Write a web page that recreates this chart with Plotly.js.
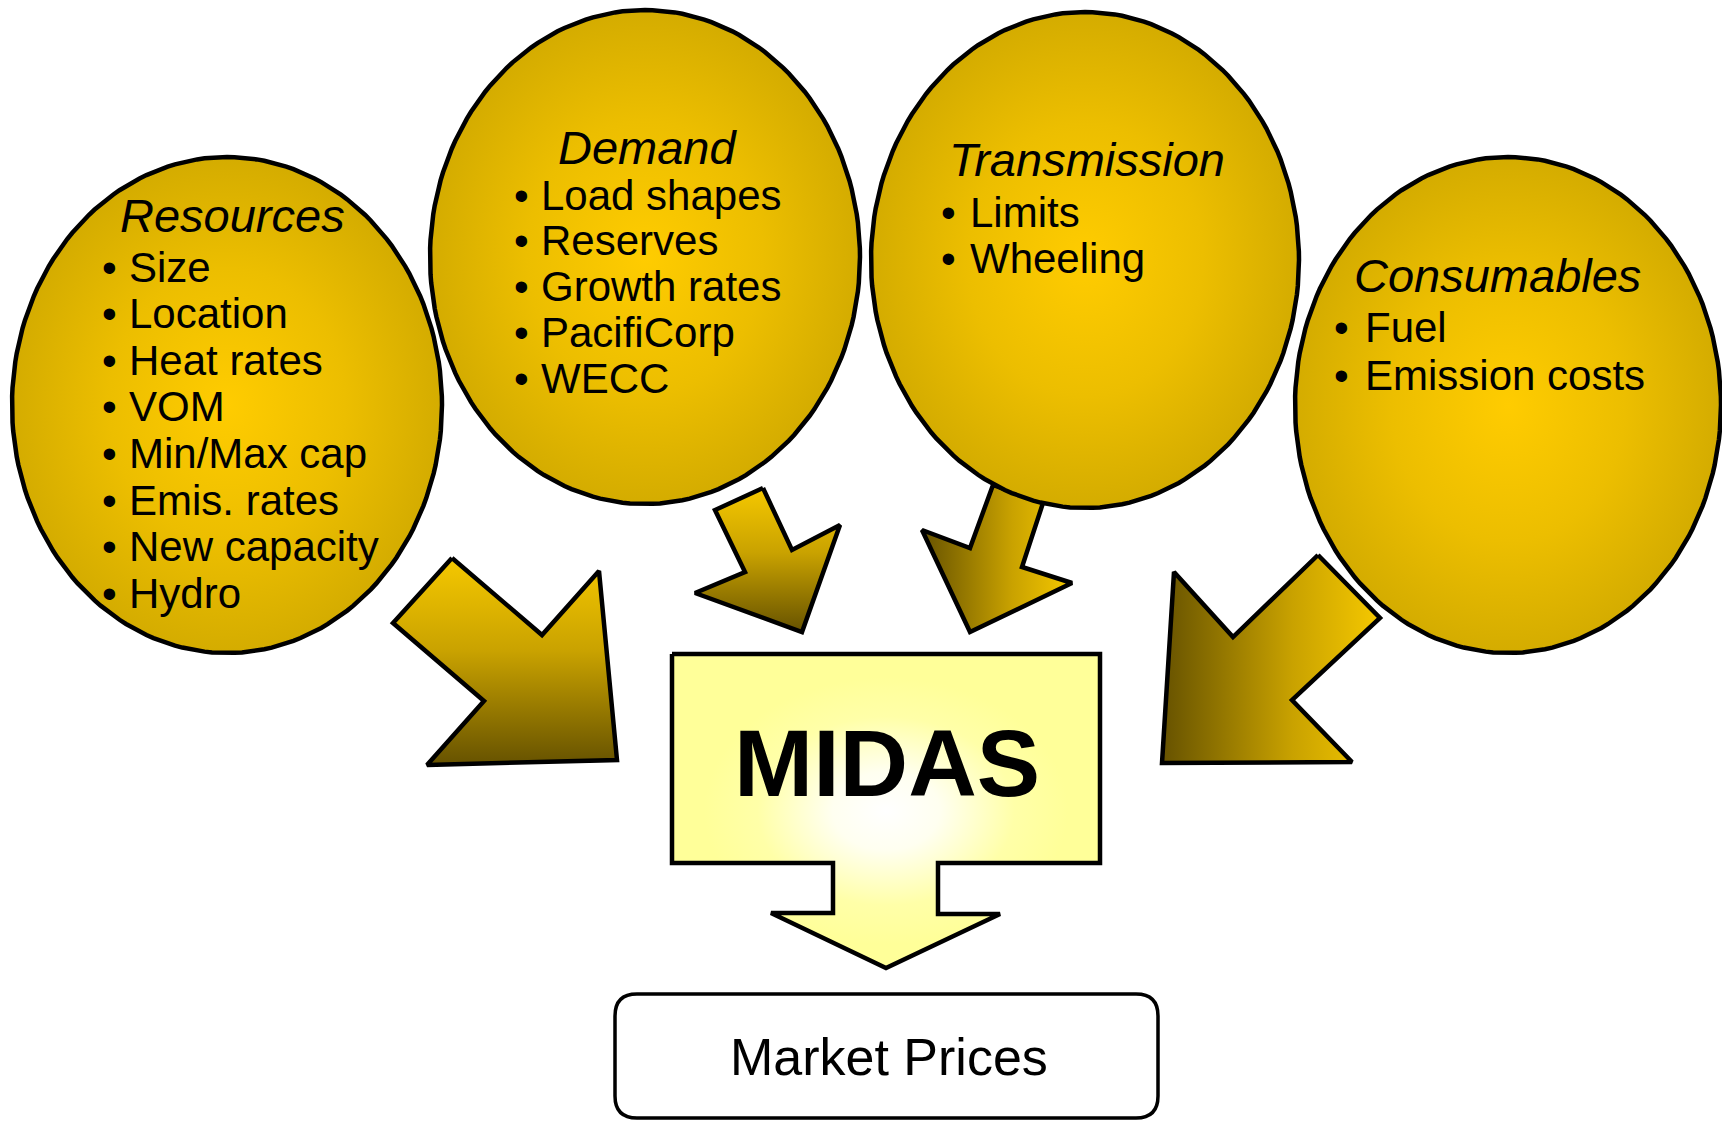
<!DOCTYPE html>
<html><head><meta charset="utf-8">
<script src="https://cdn.plot.ly/plotly-3.0.1.min.js"></script>
<style>html,body{margin:0;padding:0;background:#fff;overflow:hidden}#chart{width:1722px;height:1121px}</style>
</head><body><div id="chart"></div>
<script>
// ---- content ----
const categories = ['Resources', 'Demand', 'Transmission', 'Consumables'];
const resourcesItems = ['Size', 'Location', 'Heat rates', 'VOM', 'Min/Max cap', 'Emis. rates', 'New capacity', 'Hydro'];
const demandItems = ['Load shapes', 'Reserves', 'Growth rates', 'PacifiCorp', 'WECC'];
const transmissionItems = ['Limits', 'Wheeling'];
const consumablesItems = ['Fuel', 'Emission costs'];
const modelLabel = 'MIDAS';
const outputLabel = 'Market Prices';
const itemLists = [resourcesItems, demandItems, transmissionItems, consumablesItems];

// ---- geometry (pixel space) ----
const bubbles = [
  {cx: 227, cy: 405, rx: 215, ry: 248, titleX: 232, titleY: 215, bulletX: 109, textX: 127, firstY: 267, step: 46.6},
  {cx: 645, cy: 257, rx: 215, ry: 247, titleX: 648, titleY: 147, bulletX: 521, textX: 539, firstY: 195, step: 45.9},
  {cx: 1085, cy: 260, rx: 214, ry: 248, titleX: 1087, titleY: 159, bulletX: 948, textX: 968, firstY: 212, step: 46.4},
  {cx: 1508, cy: 405, rx: 213, ry: 248, titleX: 1497, titleY: 275, bulletX: 1341, textX: 1363, firstY: 327, step: 48.3}
];
const arrows = [
  {pts: [[452,558],[542,635],[599,571],[617,760],[427,765],[484,701],[393,623]], dir: 'vertical', start: 558, stop: 765, rev: false},
  {pts: [[763,488],[792,550],[840,525],[802,632],[695,593],[745,572],[715,510]], dir: 'vertical', start: 488, stop: 632, rev: false},
  {pts: [[993,485],[1043,503],[1022,567],[1072,583],[970,632],[922,530],[970,548]], dir: 'horizontal', start: 922, stop: 1072, rev: true},
  {pts: [[1318,555],[1380,618],[1292,700],[1352,762],[1162,763],[1174,572],[1233,637]], dir: 'horizontal', start: 1162, stop: 1380, rev: true}
];
const midasShape = [[672,654],[1100,654],[1100,863],[938,863],[938,914],[1000,914],[886,968],[771,913],[833,913],[833,863],[672,863]];
const outBox = {x0: 615, x1: 1158, y0: 994, y1: 1118, r: 22};

const FONT = 'Liberation Sans, Arial, Helvetica, sans-serif';
const traces = [];

function closed(pts) {
  const x = pts.map(p => p[0]); const y = pts.map(p => p[1]);
  x.push(pts[0][0]); y.push(pts[0][1]);
  return {x, y};
}

// arrows (below bubbles)
arrows.forEach(a => {
  const c = closed(a.pts);
  const light = '#F5C800', dark = '#665200';
  traces.push({
    type: 'scatter', mode: 'lines', x: c.x, y: c.y, fill: 'toself',
    fillgradient: {type: a.dir, start: a.start, stop: a.stop,
      colorscale: a.rev ? [[0, dark], [0.6, '#C9A200'], [1, light]] : [[0, light], [0.45, '#C9A200'], [1, dark]]},
    line: {color: '#000', width: 4.5}, hoverinfo: 'skip', showlegend: false
  });
});

// bubbles
bubbles.forEach(b => {
  const x = [], y = [];
  for (let i = 0; i <= 180; i++) {
    const t = i / 180 * 2 * Math.PI;
    x.push(b.cx + b.rx * Math.cos(t));
    y.push(b.cy + b.ry * Math.sin(t));
  }
  traces.push({
    type: 'scatter', mode: 'lines', x, y, fill: 'toself',
    fillgradient: {type: 'radial', colorscale: [[0, '#FFCC00'], [0.55, '#ECBE00'], [1, '#D4AC00']]},
    line: {color: '#000', width: 4.5}, hoverinfo: 'skip', showlegend: false
  });
});

// MIDAS box with down arrow
{
  const c = closed(midasShape);
  traces.push({
    type: 'scatter', mode: 'lines', x: c.x, y: c.y, fill: 'toself',
    fillgradient: {type: 'radial', colorscale: [[0, '#FFFFFF'], [0.25, '#FFFFF0'], [0.6, '#FFFFA8'], [0.85, '#FFFF99'], [1, '#FFFF99']]},
    line: {color: '#000', width: 4.5}, hoverinfo: 'skip', showlegend: false
  });
}

// annotations
const annotations = [];
bubbles.forEach((b, i) => {
  annotations.push({x: b.titleX, y: b.titleY, text: '<i>' + categories[i] + '</i>', showarrow: false,
    xanchor: 'center', yanchor: 'middle', font: {family: FONT, size: 47, color: '#000'}});
  itemLists[i].forEach((t, j) => {
    const yy = b.firstY + j * b.step;
    annotations.push({x: b.bulletX, y: yy, text: '•', showarrow: false, xanchor: 'center', yanchor: 'middle',
      font: {family: FONT, size: 42, color: '#000'}});
    annotations.push({x: b.textX, y: yy, text: t, showarrow: false, xanchor: 'left', yanchor: 'middle',
      font: {family: FONT, size: 42, color: '#000'}});
  });
});
annotations.push({x: 887, y: 763, text: '<b>' + modelLabel + '</b>', showarrow: false, xanchor: 'center', yanchor: 'middle',
  font: {family: FONT, size: 95, color: '#000'}});
annotations.push({x: 889, y: 1057, text: outputLabel, showarrow: false, xanchor: 'center', yanchor: 'middle',
  font: {family: FONT, size: 52, color: '#000'}});

const r = outBox.r;
const boxPath = `M ${outBox.x0 + r},${outBox.y0} L ${outBox.x1 - r},${outBox.y0} Q ${outBox.x1},${outBox.y0} ${outBox.x1},${outBox.y0 + r} ` +
  `L ${outBox.x1},${outBox.y1 - r} Q ${outBox.x1},${outBox.y1} ${outBox.x1 - r},${outBox.y1} L ${outBox.x0 + r},${outBox.y1} ` +
  `Q ${outBox.x0},${outBox.y1} ${outBox.x0},${outBox.y1 - r} L ${outBox.x0},${outBox.y0 + r} Q ${outBox.x0},${outBox.y0} ${outBox.x0 + r},${outBox.y0} Z`;

const layout = {
  width: 1722, height: 1121, margin: {l: 0, r: 0, t: 0, b: 0},
  paper_bgcolor: '#fff', plot_bgcolor: '#fff', showlegend: false,
  xaxis: {range: [0, 1722], visible: false, fixedrange: true},
  yaxis: {range: [1121, 0], visible: false, fixedrange: true},
  shapes: [{type: 'path', path: boxPath, xref: 'x', yref: 'y', fillcolor: '#fff', line: {color: '#000', width: 3.5}, layer: 'above'}],
  annotations
};
Plotly.newPlot('chart', traces, layout, {staticPlot: true, displayModeBar: false});
</script></body></html>
